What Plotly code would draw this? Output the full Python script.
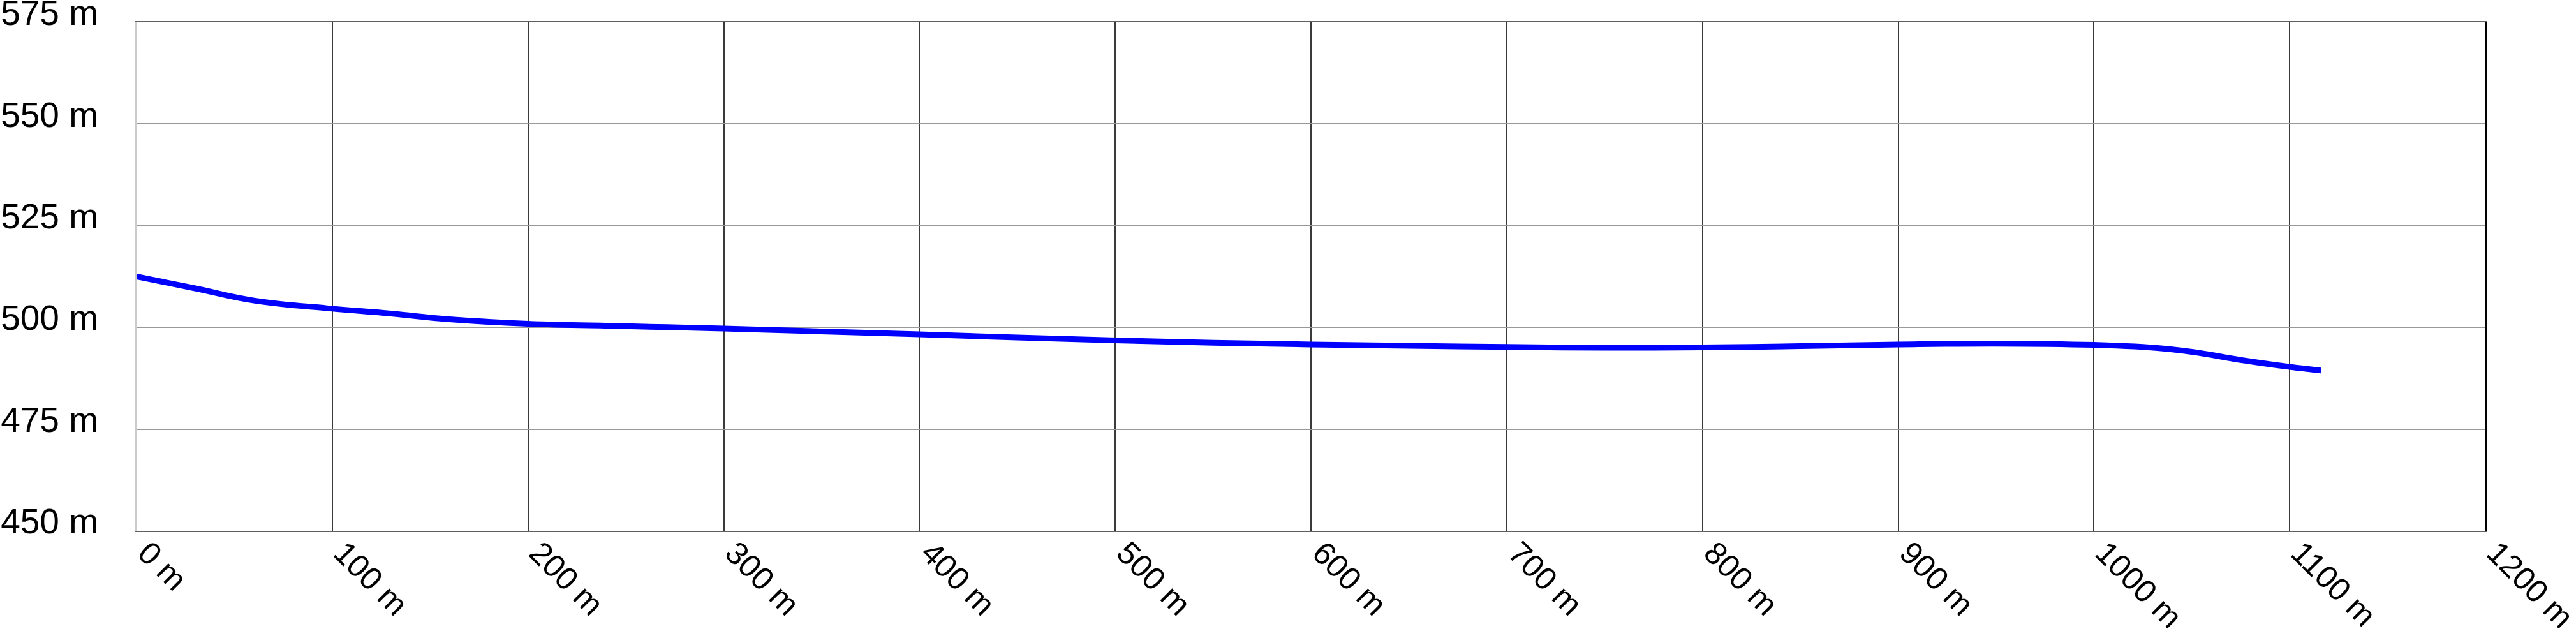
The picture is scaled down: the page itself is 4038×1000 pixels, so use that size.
import plotly.graph_objects as go

# Elevation profile: distance (m) vs elevation (m)
distance_m = [0, 30, 60, 100, 130, 160, 200, 250, 300, 400, 500, 600, 700, 750,
              800, 850, 900, 950, 1000, 1025, 1050, 1075, 1100, 1116]
elevation_m = [512.5, 509.6, 506.6, 504.6, 503.4, 502.0, 500.9, 500.3, 499.7, 498.3,
               496.8, 495.8, 495.2, 495.0, 495.1, 495.4, 495.8, 496.0, 495.7, 495.2,
               494.0, 492.0, 490.3, 489.4]

x_ticks = list(range(0, 1201, 100))
x_tick_labels = [f"{v} m" for v in x_ticks]
y_ticks = [450, 475, 500, 525, 550, 575]
y_tick_labels = [f"{v} m" for v in y_ticks]

fig = go.Figure()
fig.add_trace(go.Scatter(
    x=distance_m, y=elevation_m, mode="lines",
    line=dict(color="#0000ff", width=9, shape="spline", smoothing=1.2),
    hoverinfo="skip", showlegend=False,
))
# empty trace so the right-hand frame axis exists
fig.add_trace(go.Scatter(x=[None], y=[None], yaxis="y2", mode="lines",
                         hoverinfo="skip", showlegend=False))

fig.update_layout(
    width=4038, height=1000,
    margin=dict(l=214, r=142, t=35, b=168, autoexpand=False),
    paper_bgcolor="white", plot_bgcolor="white",
    font=dict(family="Liberation Sans, Arial, sans-serif", color="black"),
    showlegend=False,
    xaxis=dict(
        range=[0, 1200], tickmode="array", tickvals=x_ticks, ticktext=x_tick_labels,
        tickangle=45, tickfont=dict(size=50, color="black"),
        showgrid=True, gridcolor="#3a3a3a", gridwidth=2,
        zeroline=False, showline=True, mirror=True, linecolor="#606060", linewidth=2,
        ticks="", automargin=False, ticklabeloverflow="allow",
        ticklabelshift=17, ticklabelstandoff=-17,
    ),
    yaxis=dict(
        range=[450, 575], tickmode="array", tickvals=y_ticks, ticktext=y_tick_labels,
        tickfont=dict(size=55, color="black"),
        showgrid=True, gridcolor="#999999", gridwidth=2,
        zeroline=False, showline=True, linecolor="#cccccc", linewidth=3,
        ticks="", automargin=False, ticklabeloverflow="allow",
        ticklabelstandoff=46, ticklabelshift=-15,
    ),
    yaxis2=dict(
        range=[450, 575], overlaying="y", side="right", anchor="x",
        showgrid=False, zeroline=False, showticklabels=False, ticks="",
        showline=True, linecolor="#000000", linewidth=2, automargin=False,
    ),
)

# remove the default page margin so the figure sits at the window's top-left
fig.write_html("out.html", config={"displayModeBar": False, "staticPlot": True},
               post_script="document.body.style.margin='0';")
